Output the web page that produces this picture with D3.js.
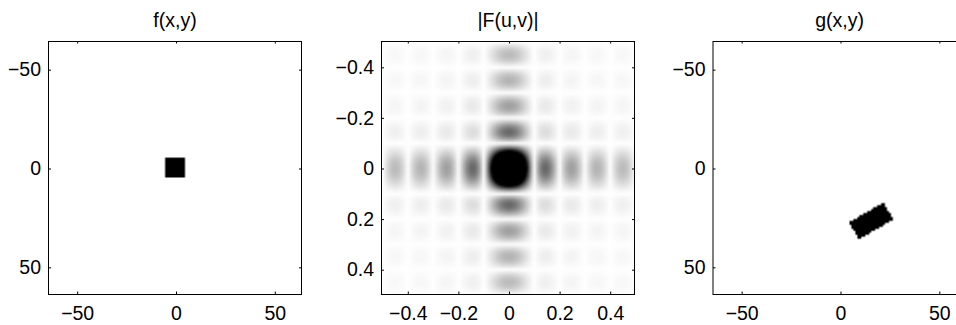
<!DOCTYPE html>
<html>
<head>
<meta charset="utf-8">
<script src="https://cdn.jsdelivr.net/npm/d3@7"></script>
<style>
  body { margin: 0; background: #fff; }
  text { font-family: "Liberation Sans", Arial, sans-serif; }
</style>
</head>
<body>
<script>
// image grid (128 x 128 samples, centred index)
var N = 128;
var pixelIdx = d3.range(-64, 64);

// f(x,y): black square, pixel index range
var squareCols = [-5, 4];
var squareRows = [-5, 4];

// g(x,y): the square stretched, rotated and moved
var rectCenter = [15.5, 26.5];
var rectSize = [20, 10];
var rectAngle = -30; // degrees

// axis ticks
var spaceTicks = [-50, 0, 50];
var freqTicks = [-0.4, -0.2, 0, 0.2, 0.4];
var titles = ["f(x,y)", "|F(u,v)|", "g(x,y)"];

var width = 956,
    height = 325,
    boxTop = 41,
    boxSize = 253,
    panelLeft = [48.5, 381.5, 713],
    fontSize = 19.5;

var svg = d3.select("body").append("svg")
    .attr("width", width)
    .attr("height", height);

// f image
var fImg = [];
pixelIdx.forEach(function(y) {
    pixelIdx.forEach(function(x) {
        var inside = x >= squareCols[0] && x <= squareCols[1] &&
                     y >= squareRows[0] && y <= squareRows[1];
        fImg.push(inside ? 1 : 0);
    });
});

// g image: point in rotated rect test at pixel centres
var gImg = [];
var a = rectAngle * Math.PI / 180;
pixelIdx.forEach(function(y) {
    pixelIdx.forEach(function(x) {
        var dx = x - rectCenter[0], dy = y - rectCenter[1];
        var lx = dx * Math.cos(a) + dy * Math.sin(a);
        var ly = -dx * Math.sin(a) + dy * Math.cos(a);
        var inside = Math.abs(lx) <= rectSize[0] / 2 && Math.abs(ly) <= rectSize[1] / 2;
        gImg.push(inside ? 1 : 0);
    });
});

// |F| of f, separable since f is a square -> product of 1D dft magnitudes
function dft1(lo, hi) {
    return pixelIdx.map(function(k) {
        var re = 0, im = 0;
        for (var n = lo; n <= hi; n++) {
            re += Math.cos(2 * Math.PI * k * n / N);
            im -= Math.sin(2 * Math.PI * k * n / N);
        }
        return Math.sqrt(re * re + im * im);
    });
}
var Fu = dft1(squareCols[0], squareCols[1]);
var Fv = dft1(squareRows[0], squareRows[1]);
var Fmax = d3.max(Fu) * d3.max(Fv);
var FImg = [];
Fv.forEach(function(fv) {
    Fu.forEach(function(fu) {
        FImg.push(fu * fv / Fmax);
    });
});

// gray colormap, black = high; F display clipped well below the peak
var grayF = d3.scaleLinear().domain([0, 0.38]).range([255, 0]).clamp(true);
var grayS = d3.scaleLinear().domain([0, 1]).range([255, 0]);

function toDataURL(values, scale) {
    var cv = document.createElement("canvas");
    cv.width = N; cv.height = N;
    var ctx = cv.getContext("2d");
    var im = ctx.createImageData(N, N);
    values.forEach(function(v, i) {
        var g = Math.round(scale(v));
        im.data[i * 4] = g;
        im.data[i * 4 + 1] = g;
        im.data[i * 4 + 2] = g;
        im.data[i * 4 + 3] = 255;
    });
    ctx.putImageData(im, 0, 0);
    return cv.toDataURL();
}

function fmt(d) {
    if (d === 0) return "0";
    return (d < 0 ? "\u2212" : "") + Math.abs(d);
}

var panels = [
    {img: fImg, scale: grayS, domain: [-64.5, 63.5], ticks: spaceTicks},
    {img: FImg, scale: grayF, domain: [-0.5 - 0.5 / N, 0.5 - 0.5 / N], ticks: freqTicks},
    {img: gImg, scale: grayS, domain: [-64.5, 63.5], ticks: spaceTicks}
];

panels.forEach(function(p, i) {
    var left = panelLeft[i];
    var x = d3.scaleLinear().domain(p.domain).range([left, left + boxSize]);
    var y = d3.scaleLinear().domain(p.domain).range([boxTop, boxTop + boxSize]);

    var g = svg.append("g");

    g.append("image")
        .attr("href", toDataURL(p.img, p.scale))
        .attr("x", x(p.domain[0]))
        .attr("y", y(p.domain[0]))
        .attr("width", x(p.domain[1]) - x(p.domain[0]))
        .attr("height", y(p.domain[1]) - y(p.domain[0]))
        .attr("preserveAspectRatio", "none");

    // ticks inside on all four sides, labels left and bottom
    var tk = 2.5;
    var axes = [
        {ax: d3.axisBottom(x), tr: "translate(0," + (boxTop + boxSize) + ")", lab: true},
        {ax: d3.axisLeft(y), tr: "translate(" + left + ",0)", lab: true},
        {ax: d3.axisTop(x), tr: "translate(0," + boxTop + ")", lab: false},
        {ax: d3.axisRight(y), tr: "translate(" + (left + boxSize) + ",0)", lab: false}
    ];
    axes.forEach(function(o, j) {
        o.ax.tickValues(p.ticks)
            .tickSizeInner(-tk)
            .tickSizeOuter(0)
            .tickPadding(j == 0 ? 11.7 : 7.5)
            .tickFormat(o.lab ? fmt : "");
        var ag = g.append("g").attr("transform", o.tr).call(o.ax);
        ag.select(".domain").remove();
        ag.attr("font-size", fontSize).attr("font-family", null);
        ag.selectAll("line").attr("stroke", "#000");
        ag.selectAll("text").attr("fill", "#000");
        if (!o.lab) ag.selectAll("text").remove();
    });

    g.append("rect")
        .attr("x", left)
        .attr("y", boxTop + 0.5)
        .attr("width", boxSize)
        .attr("height", boxSize)
        .attr("fill", "none")
        .attr("stroke", "#000")
        .attr("stroke-width", 1);

    g.append("text")
        .attr("x", left + boxSize / 2)
        .attr("y", 26.5)
        .attr("text-anchor", "middle")
        .attr("font-size", fontSize)
        .attr("fill", "#000")
        .text(titles[i]);
});
</script>
</body>
</html>
